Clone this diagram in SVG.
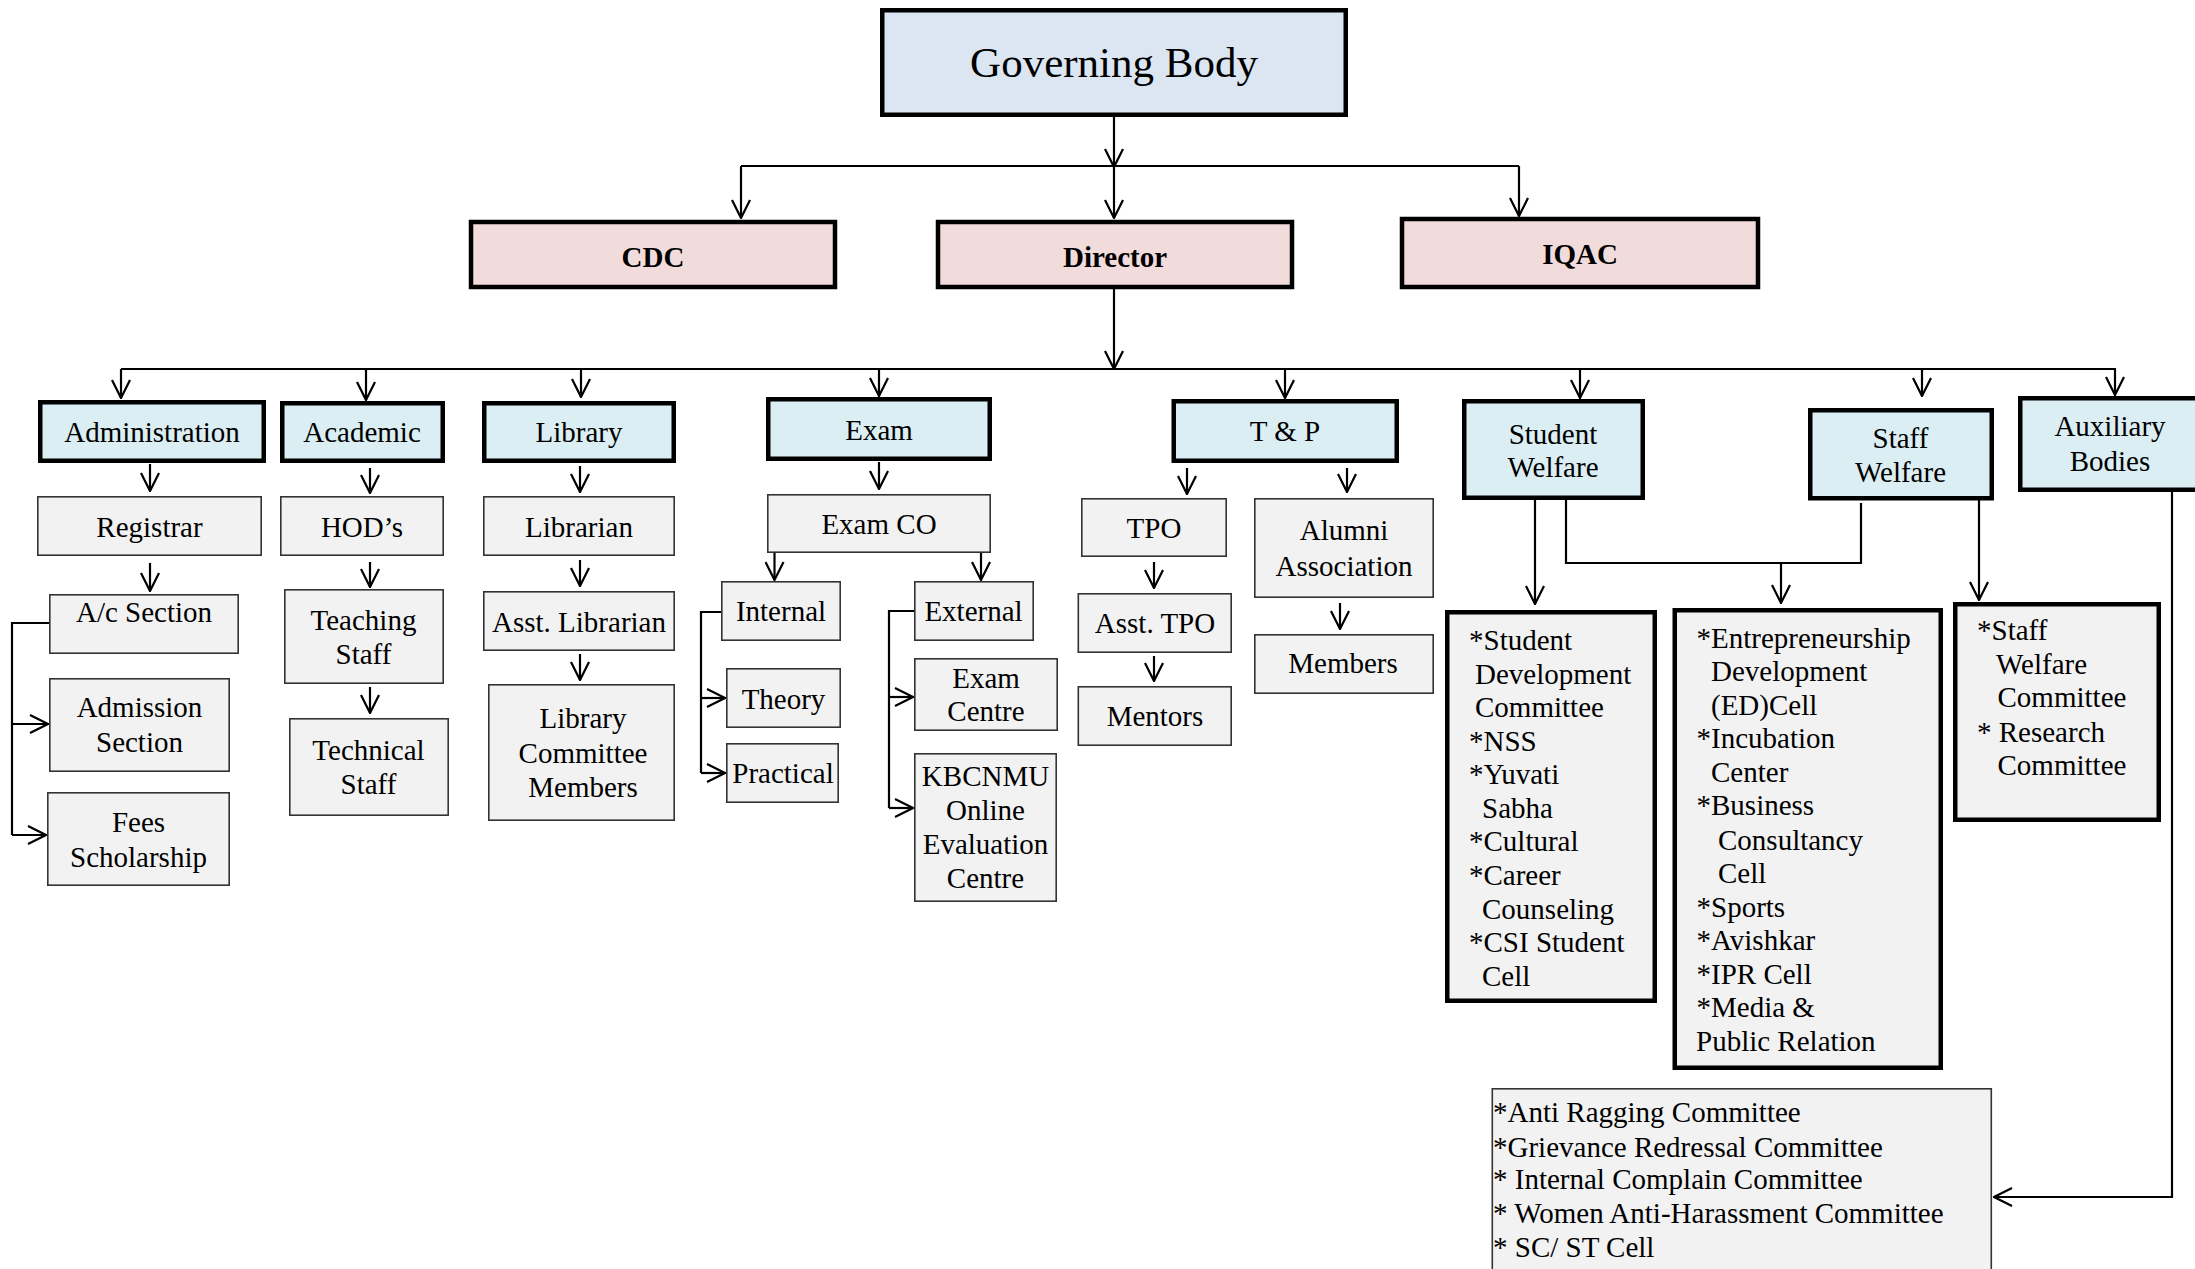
<svg xmlns="http://www.w3.org/2000/svg" width="2195" height="1269" viewBox="0 0 2195 1269">
<style>
text{font-family:"Liberation Serif","Times New Roman",serif;font-size:29px;fill:#000}
.c{text-anchor:middle}
.b{font-weight:bold}
.gb{fill:#dce6f2;stroke:#000;stroke-width:4.5}
.pk{fill:#f2dcdb;stroke:#000;stroke-width:4.5}
.bl{fill:#daeef3;stroke:#000;stroke-width:4.5}
.gr{fill:#f2f2f2;stroke:#333;stroke-width:1.6}
.ls{fill:#f2f2f2;stroke:#000;stroke-width:4.5}
#connectors line,#connectors path{stroke:#000;stroke-width:2.2;fill:none}
</style>
<defs>
<marker id="ah" viewBox="0 0 20 20" refX="19" refY="10" markerWidth="20" markerHeight="20" markerUnits="userSpaceOnUse" orient="auto">
<path d="M1,1 L19,10 L1,19" fill="none" stroke="#000" stroke-width="2.2"/>
</marker>
</defs>
<rect width="2195" height="1269" fill="#fff"/>

<g id="connectors">
<line x1="1114" y1="117" x2="1114" y2="167" marker-end="url(#ah)"/>
<line x1="741" y1="166" x2="1519" y2="166"/>
<line x1="741" y1="166" x2="741" y2="218" marker-end="url(#ah)"/>
<line x1="1114" y1="166" x2="1114" y2="218" marker-end="url(#ah)"/>
<line x1="1519" y1="166" x2="1519" y2="216" marker-end="url(#ah)"/>
<line x1="1114" y1="289" x2="1114" y2="369" marker-end="url(#ah)"/>
<line x1="121" y1="369" x2="2116" y2="369"/>
<line x1="121" y1="369" x2="121" y2="398" marker-end="url(#ah)"/>
<line x1="366" y1="369" x2="366" y2="400" marker-end="url(#ah)"/>
<line x1="581" y1="369" x2="581" y2="397" marker-end="url(#ah)"/>
<line x1="879" y1="369" x2="879" y2="396" marker-end="url(#ah)"/>
<line x1="1285" y1="369" x2="1285" y2="398" marker-end="url(#ah)"/>
<line x1="1580" y1="369" x2="1580" y2="398" marker-end="url(#ah)"/>
<line x1="1922" y1="369" x2="1922" y2="396" marker-end="url(#ah)"/>
<line x1="2115" y1="369" x2="2115" y2="395" marker-end="url(#ah)"/>

<line x1="150" y1="464" x2="150" y2="491" marker-end="url(#ah)"/>
<line x1="150" y1="563" x2="150" y2="591" marker-end="url(#ah)"/>
<path d="M49,623 H12 V835"/>
<line x1="12" y1="724" x2="48" y2="724" marker-end="url(#ah)"/>
<line x1="12" y1="835" x2="46" y2="835" marker-end="url(#ah)"/>
<line x1="370" y1="468" x2="370" y2="493" marker-end="url(#ah)"/>
<line x1="370" y1="562" x2="370" y2="587" marker-end="url(#ah)"/>
<line x1="370" y1="687" x2="370" y2="713" marker-end="url(#ah)"/>
<line x1="580" y1="466" x2="580" y2="492" marker-end="url(#ah)"/>
<line x1="580" y1="560" x2="580" y2="586" marker-end="url(#ah)"/>
<line x1="580" y1="654" x2="580" y2="680" marker-end="url(#ah)"/>

<line x1="879" y1="462" x2="879" y2="489" marker-end="url(#ah)"/>
<line x1="774.5" y1="553" x2="774.5" y2="580" marker-end="url(#ah)"/>
<line x1="981" y1="553" x2="981" y2="580" marker-end="url(#ah)"/>
<path d="M721,612 H701 V773"/>
<line x1="701" y1="698" x2="725" y2="698" marker-end="url(#ah)"/>
<line x1="701" y1="773" x2="725" y2="773" marker-end="url(#ah)"/>
<path d="M914,611 H889 V808"/>
<line x1="889" y1="697" x2="913" y2="697" marker-end="url(#ah)"/>
<line x1="889" y1="808" x2="913" y2="808" marker-end="url(#ah)"/>
<line x1="1187" y1="468" x2="1187" y2="494" marker-end="url(#ah)"/>
<line x1="1347" y1="468" x2="1347" y2="492" marker-end="url(#ah)"/>
<line x1="1154" y1="562" x2="1154" y2="588" marker-end="url(#ah)"/>
<line x1="1154" y1="656" x2="1154" y2="681" marker-end="url(#ah)"/>
<line x1="1340" y1="603" x2="1340" y2="629" marker-end="url(#ah)"/>

<line x1="1535" y1="500" x2="1535" y2="604" marker-end="url(#ah)"/>
<path d="M1566,500 V563 H1861 V503"/>
<line x1="1781" y1="564" x2="1781" y2="603" marker-end="url(#ah)"/>
<line x1="1979" y1="500" x2="1979" y2="600" marker-end="url(#ah)"/>
<path d="M2172,492 V1197 H1994" marker-end="url(#ah)"/>
</g>

<g id="governing-body"><rect class="gb" x="882.25" y="10.25" width="463.5" height="104.5"/><text class="c" x="1114" y="77" style="font-size:43px">Governing Body</text></g>
<g id="cdc"><rect class="pk" x="471" y="222" width="364" height="65"/><text class="c b" x="653" y="267">CDC</text></g>
<g id="director"><rect class="pk" x="938" y="222" width="354" height="65"/><text class="c b" x="1115" y="267">Director</text></g>
<g id="iqac"><rect class="pk" x="1402" y="219" width="356" height="68"/><text class="c b" x="1580" y="264">IQAC</text></g>

<g id="administration"><rect class="bl" x="40.25" y="402.25" width="223.5" height="58.5"/><text class="c" x="152" y="442">Administration</text></g>
<g id="academic"><rect class="bl" x="282.25" y="403.25" width="160.5" height="57.5"/><text class="c" x="362" y="442">Academic</text></g>
<g id="library"><rect class="bl" x="484.25" y="403.25" width="189.5" height="57.5"/><text class="c" x="579" y="442">Library</text></g>
<g id="exam"><rect class="bl" x="768.25" y="399.25" width="221.5" height="59.5"/><text class="c" x="879" y="440">Exam</text></g>
<g id="tp"><rect class="bl" x="1173.75" y="401.25" width="223" height="59.5"/><text class="c" x="1285" y="441">T &amp; P</text></g>
<g id="student-welfare"><rect class="bl" x="1464.25" y="401.25" width="178.5" height="96.5"/><text class="c" x="1553" y="444">Student</text><text class="c" x="1553" y="477">Welfare</text></g>
<g id="staff-welfare"><rect class="bl" x="1810.25" y="410.25" width="181.5" height="88"/><text class="c" x="1900.5" y="448">Staff</text><text class="c" x="1900.5" y="482">Welfare</text></g>
<g id="auxiliary-bodies"><rect class="bl" x="2020.25" y="398.25" width="190" height="91.5"/><text class="c" x="2110" y="436">Auxiliary</text><text class="c" x="2110" y="471">Bodies</text></g>

<g id="registrar"><rect class="gr" x="37.8" y="496.8" width="223.4" height="58.4"/><text class="c" x="149.5" y="537">Registrar</text></g>
<g id="ac-section"><rect class="gr" x="49.8" y="594.8" width="188.4" height="58.4"/><text class="c" x="144" y="622">A/c Section</text></g>
<g id="admission-section"><rect class="gr" x="49.8" y="678.8" width="179.4" height="92.4"/><text class="c" x="139.5" y="717">Admission</text><text class="c" x="139.5" y="752">Section</text></g>
<g id="fees-scholarship"><rect class="gr" x="47.8" y="792.8" width="181.4" height="92.4"/><text class="c" x="138.5" y="832">Fees</text><text class="c" x="138.5" y="867">Scholarship</text></g>
<g id="hods"><rect class="gr" x="280.8" y="496.8" width="162.4" height="58.4"/><text class="c" x="362" y="537">HOD’s</text></g>
<g id="teaching-staff"><rect class="gr" x="284.8" y="589.8" width="158.4" height="93.4"/><text class="c" x="363.5" y="630">Teaching</text><text class="c" x="363.5" y="664">Staff</text></g>
<g id="technical-staff"><rect class="gr" x="289.8" y="718.8" width="158.4" height="96.4"/><text class="c" x="368.5" y="760">Technical</text><text class="c" x="368.5" y="794">Staff</text></g>
<g id="librarian"><rect class="gr" x="483.8" y="496.8" width="190.4" height="58.4"/><text class="c" x="579" y="537">Librarian</text></g>
<g id="asst-librarian"><rect class="gr" x="483.8" y="591.8" width="190.4" height="58.4"/><text class="c" x="579" y="632">Asst. Librarian</text></g>
<g id="library-committee"><rect class="gr" x="488.8" y="684.8" width="185.4" height="135.4"/><text class="c" x="583" y="728">Library</text><text class="c" x="583" y="763">Committee</text><text class="c" x="583" y="797">Members</text></g>

<g id="exam-co"><rect class="gr" x="767.8" y="494.8" width="222.4" height="57.4"/><text class="c" x="879" y="534">Exam CO</text></g>
<g id="internal"><rect class="gr" x="721.8" y="581.8" width="118.4" height="58.4"/><text class="c" x="781" y="621">Internal</text></g>
<g id="external"><rect class="gr" x="914.8" y="581.8" width="118.4" height="58.4"/><text class="c" x="973.5" y="621">External</text></g>
<g id="theory"><rect class="gr" x="726.8" y="668.8" width="113.4" height="58.4"/><text class="c" x="783.5" y="709">Theory</text></g>
<g id="practical"><rect class="gr" x="726.8" y="743.8" width="111.4" height="58.4"/><text class="c" x="783" y="783">Practical</text></g>
<g id="exam-centre"><rect class="gr" x="914.8" y="658.8" width="142.4" height="71.4"/><text class="c" x="986" y="687.5">Exam</text><text class="c" x="986" y="721">Centre</text></g>
<g id="kbcnmu"><rect class="gr" x="914.8" y="753.8" width="141.4" height="147.4"/><text class="c" x="985.5" y="786">KBCNMU</text><text class="c" x="985.5" y="820">Online</text><text class="c" x="985.5" y="853.5">Evaluation</text><text class="c" x="985.5" y="888">Centre</text></g>
<g id="tpo"><rect class="gr" x="1081.8" y="498.8" width="144.4" height="57.4"/><text class="c" x="1154" y="538">TPO</text></g>
<g id="asst-tpo"><rect class="gr" x="1078.3" y="593.8" width="152.9" height="58.4"/><text class="c" x="1155" y="633">Asst. TPO</text></g>
<g id="mentors"><rect class="gr" x="1078.3" y="686.8" width="152.9" height="58.4"/><text class="c" x="1155" y="726">Mentors</text></g>
<g id="alumni"><rect class="gr" x="1254.8" y="498.8" width="178.4" height="98.4"/><text class="c" x="1344" y="540">Alumni</text><text class="c" x="1344" y="575.5">Association</text></g>
<g id="members"><rect class="gr" x="1254.8" y="634.8" width="178.4" height="58.4"/><text class="c" x="1343" y="673">Members</text></g>

<g id="student-list"><rect class="ls" x="1447.25" y="612.25" width="207.5" height="388.5"/>
<text x="1469" y="650">*Student</text><text x="1475" y="683.5">Development</text><text x="1475" y="717">Committee</text><text x="1469" y="750.5">*NSS</text><text x="1469" y="784">*Yuvati</text><text x="1482" y="817.5">Sabha</text><text x="1469" y="851">*Cultural</text><text x="1469" y="884.5">*Career</text><text x="1482" y="919">Counseling</text><text x="1469" y="952">*CSI Student</text><text x="1482" y="986">Cell</text></g>

<g id="ed-list"><rect class="ls" x="1674.75" y="610.25" width="266" height="457.5"/>
<text x="1696.5" y="648">*Entrepreneurship</text><text x="1711" y="681">Development</text><text x="1711" y="715">(ED)Cell</text><text x="1696.5" y="748">*Incubation</text><text x="1711" y="782">Center</text><text x="1696.5" y="815">*Business</text><text x="1718" y="850">Consultancy</text><text x="1718" y="883">Cell</text><text x="1696.5" y="917">*Sports</text><text x="1696.5" y="950">*Avishkar</text><text x="1696.5" y="983.5">*IPR Cell</text><text x="1696.5" y="1017">*Media &amp;</text><text x="1696" y="1050.5">Public Relation</text></g>

<g id="staff-list"><rect class="ls" x="1955.25" y="604.25" width="203.5" height="215.5"/>
<text x="1977" y="640">*Staff</text><text x="1996" y="674">Welfare</text><text x="1997.5" y="707">Committee</text><text x="1977" y="741.5">* Research</text><text x="1997.5" y="775">Committee</text></g>

<g id="committee-list"><rect class="gr" x="1492.3" y="1088.8" width="499" height="210"/>
<text x="1493" y="1122">*Anti Ragging Committee</text><text x="1493" y="1157">*Grievance Redressal Committee</text><text x="1493" y="1189">* Internal Complain Committee</text><text x="1493" y="1223">* Women Anti-Harassment Committee</text><text x="1493" y="1257">* SC/ ST Cell</text></g>
</svg>
